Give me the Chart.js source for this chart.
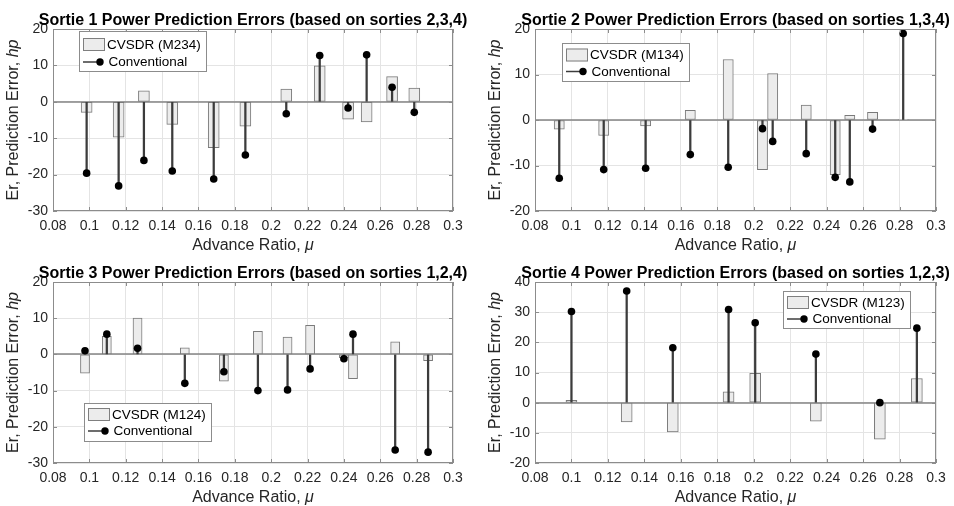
<!DOCTYPE html>
<html><head><meta charset="utf-8">
<script src="https://cdn.jsdelivr.net/npm/chart.js@4.4.0/dist/chart.umd.min.js"></script>
<style>
html,body{margin:0;padding:0;background:#fff;}
#wrap{position:relative;width:954px;height:506px;overflow:hidden;}
.cell{position:absolute;width:477px;height:253px;}
canvas{display:block;}
</style></head><body>
<div id="wrap">
<div class="cell" style="left:0;top:0"><canvas id="c1" width="477" height="253"></canvas></div>
<div class="cell" style="left:477px;top:0"><canvas id="c2" width="477" height="253"></canvas></div>
<div class="cell" style="left:0;top:253px"><canvas id="c3" width="477" height="253"></canvas></div>
<div class="cell" style="left:477px;top:253px"><canvas id="c4" width="477" height="253"></canvas></div>
</div>
<script>
// ---------- data ----------
const xTickVals   = [0.08, 0.10, 0.12, 0.14, 0.16, 0.18, 0.20, 0.22, 0.24, 0.26, 0.28, 0.30];
const xTickLabels = ['0.08','0.1','0.12','0.14','0.16','0.18','0.2','0.22','0.24','0.26','0.28','0.3'];

const s1Titles = 'Sortie 1 Power Prediction Errors (based on sorties 2,3,4)';
const s1Mu    = [0.0985, 0.1161, 0.1300, 0.1456, 0.1684, 0.1858, 0.2083, 0.2267, 0.2423, 0.2525, 0.2665, 0.2787];
const s1Cvsdr = [-2.9, -9.7, 3.0, -6.2, -12.6, -6.7, 3.5, 9.9, -4.8, -5.5, 6.9, 3.8];
const s1Conv  = [-19.6, -23.1, -16.1, -19.0, -21.2, -14.6, -3.3, 12.7, -1.7, 12.9, 4.0, -2.9];
const s1YTicks = [-30, -20, -10, 0, 10, 20];

const s2Titles = 'Sortie 2 Power Prediction Errors (based on sorties 1,3,4)';
const s2Mu    = [0.0933, 0.1177, 0.1407, 0.1652, 0.1860, 0.2048, 0.2104, 0.2288, 0.2447, 0.2527, 0.2652, 0.2820];
const s2Cvsdr = [-2.0, -3.4, -1.3, 2.1, 13.3, -10.9, 10.2, 3.3, -12.0, 1.0, 1.7, 0.1];
const s2Conv  = [-12.8, -10.9, -10.6, -7.6, -10.4, -1.9, -4.7, -7.4, -12.6, -13.6, -2.0, 19.0];
const s2YTicks = [-20, -10, 0, 10, 20];

const s3Titles = 'Sortie 3 Power Prediction Errors (based on sorties 1,2,4)';
const s3Mu    = [0.0976, 0.1096, 0.1265, 0.1525, 0.1740, 0.1927, 0.2090, 0.2214, 0.2400, 0.2450, 0.2682, 0.2863];
const s3Cvsdr = [-5.2, 5.0, 10.0, 1.8, -7.4, 6.4, 4.8, 8.0, -0.9, -6.7, 3.5, -1.7];
const s3Conv  = [1.0, 5.6, 1.7, -8.0, -4.8, -10.0, -9.8, -4.0, -1.2, 5.6, -26.4, -27.0];
const s3YTicks = [-30, -20, -10, 0, 10, 20];

const s4Titles = 'Sortie 4 Power Prediction Errors (based on sorties 1,2,3)';
const s4Mu    = [0.1000, 0.1303, 0.1556, 0.1862, 0.2008, 0.2341, 0.2692, 0.2895];
const s4Cvsdr = [0.8, -6.4, -9.7, 3.6, 9.7, -6.1, -12.1, 8.0];
const s4Conv  = [30.2, 37.0, 18.2, 30.9, 26.5, 16.1, 0.0, 24.7];
const s4YTicks = [-20, -10, 0, 10, 20, 30, 40];

const cvsdrLabels = ['CVSDR (M234)', 'CVSDR (M134)', 'CVSDR (M124)', 'CVSDR (M123)'];
const convLabel = 'Conventional';
const xAxisLabel = [['Advance Ratio, ', 'normal'], ['\u03bc', 'italic']];
const yAxisLabel = [['Er, Prediction Error, ', 'normal'], ['hp', 'italic']];

// ---------- drawing ----------
const FONT = '"Liberation Sans", Arial, Helvetica, sans-serif';
Chart.defaults.font.family = FONT;

function drawSegments(ctx, segs, size) {
  let total = 0;
  const w = segs.map(([t, st]) => { ctx.font = `${st} ${size}px ${FONT}`; const m = ctx.measureText(t).width; total += m; return m; });
  let x = -total / 2;
  segs.forEach(([t, st], i) => { ctx.font = `${st} ${size}px ${FONT}`; ctx.fillText(t, x, 0); x += w[i]; });
}

const decor = {
  id: 'decor',
  beforeDatasetsDraw(chart) {
    const {ctx, chartArea: a, scales: {y}} = chart;
    const y0 = Math.round(y.getPixelForValue(0));
    ctx.save();
    ctx.strokeStyle = '#858585'; ctx.lineWidth = 1.5;
    ctx.beginPath(); ctx.moveTo(a.left, y0); ctx.lineTo(a.right, y0); ctx.stroke();
    ctx.restore();
  },
  afterDatasetsDraw(chart) {
    const {ctx, chartArea: a, scales: {x, y}} = chart;
    ctx.save();
    ctx.strokeStyle = '#8c8c8c'; ctx.lineWidth = 1;
    ctx.strokeRect(Math.round(a.left) + 0.5, Math.round(a.top) + 0.5, Math.round(a.right - a.left) - 1, Math.round(a.bottom - a.top) - 1);
    ctx.beginPath();
    x.ticks.forEach(t => {
      const px = Math.round(x.getPixelForValue(t.value)) + 0.5;
      ctx.moveTo(px, a.bottom); ctx.lineTo(px, a.bottom - 4);
      ctx.moveTo(px, a.top); ctx.lineTo(px, a.top + 4);
    });
    y.ticks.forEach(t => {
      const py = Math.round(y.getPixelForValue(t.value)) + 0.5;
      ctx.moveTo(a.left, py); ctx.lineTo(a.left + 4, py);
      ctx.moveTo(a.right, py); ctx.lineTo(a.right - 4, py);
    });
    ctx.stroke();
    ctx.restore();
  },
  afterDraw(chart, args, o) {
    const {ctx, chartArea: a} = chart;
    const cx = (a.left + a.right) / 2, cy = (a.top + a.bottom) / 2;
    ctx.save();
    ctx.fillStyle = '#000';
    ctx.textAlign = 'center'; ctx.textBaseline = 'alphabetic';
    ctx.font = `bold 16px ${FONT}`;
    ctx.fillText(o.title, cx, a.top - 4);
    ctx.fillStyle = '#262626';
    ctx.textAlign = 'left'; ctx.textBaseline = 'middle';
    ctx.save(); ctx.translate(cx, a.bottom + 35); drawSegments(ctx, xAxisLabel, 16); ctx.restore();
    ctx.save(); ctx.translate(a.left - 39.5, cy); ctx.rotate(-Math.PI / 2); drawSegments(ctx, yAxisLabel, 16); ctx.restore();
    // legend
    const L = o.legend;
    const lab1 = chart.data.datasets[0].label, lab2 = chart.data.datasets[1].label;
    ctx.font = `13.5px ${FONT}`;
    const tw = Math.max(ctx.measureText(lab1).width, ctx.measureText(lab2).width);
    const bx = Math.round(a.left + L.left), by = Math.round(a.top + L.top);
    const bw = Math.round(30 + tw + 3), bh = L.height;
    ctx.fillStyle = '#fff'; ctx.fillRect(bx, by, bw, bh);
    ctx.strokeStyle = '#8c8c8c'; ctx.lineWidth = 1; ctx.strokeRect(bx + 0.5, by + 0.5, bw, bh);
    ctx.fillStyle = '#ececec'; ctx.fillRect(bx + 4, by + L.row1 - 6.5, 22, 13);
    ctx.strokeStyle = '#7f7f7f'; ctx.strokeRect(bx + 4.5, by + L.row1 - 6, 21, 12);
    ctx.strokeStyle = '#3c3c3c'; ctx.lineWidth = 1.5;
    ctx.beginPath(); ctx.moveTo(bx + 4, by + L.row2); ctx.lineTo(bx + 21, by + L.row2); ctx.stroke();
    ctx.fillStyle = '#000';
    ctx.beginPath(); ctx.arc(bx + 21, by + L.row2, 3.7, 0, Math.PI * 2); ctx.fill();
    ctx.font = `13.5px ${FONT}`; ctx.textAlign = 'left'; ctx.textBaseline = 'middle';
    ctx.fillText(lab1, bx + 28, by + L.row1 + 0.5);
    ctx.fillText(lab2, bx + 29.5, by + L.row2 + 0.5);
    ctx.restore();
  }
};

function makeChart(id, cfg) {
  const datasets = [
    { type: 'bar', label: cfg.cvsdrLabel, order: 3, grouped: false,
      data: cfg.mu.map((m, i) => ({x: m, y: cfg.cvsdr[i]})),
      backgroundColor: '#ececec', borderColor: '#7a7a7a', borderWidth: 1, borderSkipped: false,
      barPercentage: 1, categoryPercentage: 1, maxBarThickness: cfg.barW },
    { type: 'bar', label: convLabel, order: 2, grouped: false,
      data: cfg.mu.map((m, i) => ({x: m, y: [0, cfg.conv[i]]})),
      backgroundColor: '#3c3c3c', borderWidth: 0, borderSkipped: false,
      barPercentage: 1, categoryPercentage: 1, maxBarThickness: 1.6 },
    { type: 'scatter', label: convLabel + ' markers', order: 1,
      data: cfg.mu.map((m, i) => ({x: m, y: cfg.conv[i]})),
      pointRadius: 3.8, pointBackgroundColor: '#000', pointBorderWidth: 0, showLine: false }
  ];
  return new Chart(document.getElementById(id), {
    type: 'bar',
    data: { datasets },
    plugins: [decor],
    options: {
      responsive: false, animation: false, events: [],
      layout: { padding: { left: cfg.padL, right: cfg.padR, top: 29, bottom: 0 } },
      plugins: { legend: { display: false }, tooltip: { enabled: false },
        decor: { title: cfg.title, legend: cfg.legend } },
      scales: {
        x: { type: 'linear', min: 0.08, max: 0.3, offset: false,
          afterBuildTicks: s => { s.ticks = xTickVals.map(v => ({value: v})); },
          afterFit: s => { s.height = cfg.xH; },
          ticks: { autoSkip: false, maxRotation: 0, minRotation: 0, padding: 7, color: '#262626',
            font: { size: 14 }, callback: (v, i) => xTickLabels[i] },
          grid: { color: '#e4e4e4', lineWidth: 1, drawTicks: false, offset: false },
          border: { display: false } },
        y: { type: 'linear', min: cfg.yTicks[0], max: cfg.yTicks[cfg.yTicks.length - 1],
          afterBuildTicks: s => { s.ticks = cfg.yTicks.map(v => ({value: v})); },
          afterFit: s => { s.width = 45; },
          ticks: { padding: 5, color: '#262626', font: { size: 14 }, callback: v => String(v) },
          grid: { color: '#e4e4e4', lineWidth: 1, drawTicks: false },
          border: { display: false } }
      }
    }
  });
}

makeChart('c1', { title: s1Titles, mu: s1Mu, cvsdr: s1Cvsdr, conv: s1Conv, yTicks: s1YTicks, cvsdrLabel: cvsdrLabels[0],
  padL: 8, padR: 24, xH: 42, barW: 11, legend: { left: 26, top: 2, height: 40, row1: 13.5, row2: 31 } });
makeChart('c2', { title: s2Titles, mu: s2Mu, cvsdr: s2Cvsdr, conv: s2Conv, yTicks: s2YTicks, cvsdrLabel: cvsdrLabels[1],
  padL: 13, padR: 18, xH: 42, barW: 11, legend: { left: 27, top: 14, height: 38, row1: 12, row2: 28.5 } });
makeChart('c3', { title: s3Titles, mu: s3Mu, cvsdr: s3Cvsdr, conv: s3Conv, yTicks: s3YTicks, cvsdrLabel: cvsdrLabels[2],
  padL: 8, padR: 24, xH: 43, barW: 10, legend: { left: 31, top: 120.5, height: 38, row1: 11.5, row2: 28 } });
makeChart('c4', { title: s4Titles, mu: s4Mu, cvsdr: s4Cvsdr, conv: s4Conv, yTicks: s4YTicks, cvsdrLabel: cvsdrLabels[3],
  padL: 13, padR: 18, xH: 43, barW: 11, legend: { left: 248, top: 9, height: 37, row1: 11.5, row2: 28 } });
</script>
</body></html>
